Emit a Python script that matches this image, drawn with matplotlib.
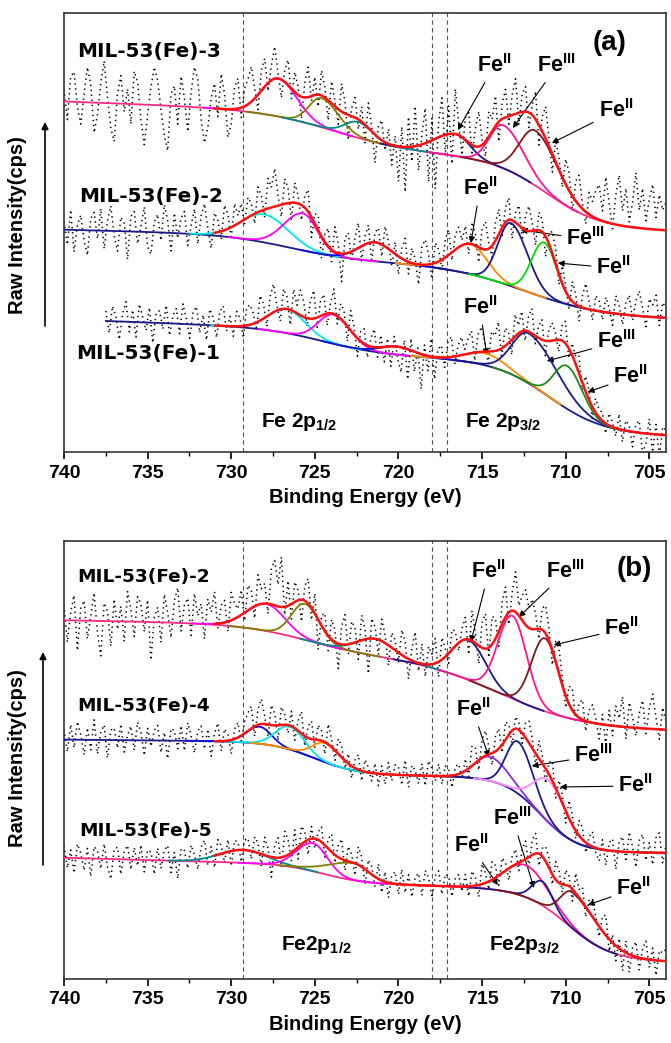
import numpy as np
import matplotlib.pyplot as plt
from matplotlib.ticker import MultipleLocator

plt.rcParams['font.family'] = ['Liberation Sans', 'DejaVu Sans']
plt.rcParams['font.weight'] = 'bold'
plt.rcParams['mathtext.fontset'] = 'custom'
plt.rcParams['mathtext.rm'] = 'Liberation Sans:bold'
plt.rcParams['mathtext.bf'] = 'Liberation Sans:bold'
plt.rcParams['mathtext.it'] = 'Liberation Sans:bold'
plt.rcParams['mathtext.default'] = 'rm'

# ---- data (intensity in arbitrary, offset units) ----
# background: base at 704 eV, linear slope, steps (centre, height, width)
a3_bg = (221, 0.6, [(711.2, 68, 1.6), (723.8, 40, 2.3)])
a3_c = [727.2, 724.6, 722.4, 716.6, 713.75, 711.8]
a3_h = [38, 29, 16, 22, 43, 55]
a3_whi = [1.0, 0.75, 0.8, 1.3, 0.8, 0.95]
a3_wlo = [1.1, 1.0, 0.8, 0.85, 1.2, 1.3]
a3_noise = [12, -18, 25, 30, -5, -22, 8, 35, 18, -30, -12, 20, 42, 5, -25, -38, 10, 28, -8, 15,
            -20, 33, 22, -15, -40, -10, 18, 38, 25, -5, -30, -45, 12, 20, -18, 30, 8, -25, 15, 40,
            28, -12, -35, -20, 10, 25, -8, 35, 15, -28, -15, 22, 30, -10, 18,
            25, 35, 10, -15, 20, 28, -8, 15, 32, 5, -18, 12, 25, -10, 20, 8, -22, 15, 30, -5,
            18, -12, 25, 10, -20, 22, 5, -15, 28, 12, -25, 8, 20, -10, 15, -18, 25, 5, -28, 12,
            20, -8, 15, -20, 10,
            -35, 20, -45, 30, -15, 40, -25, 10, 35, -40, 22, -50, 15, 38, -20, 28, -30, 45, 12, -18,
            22, 30, -10, 18, 35, 5, -15, 25, 12, 30, -20, 15, 28, -8, 20, 35, -12, 18, 25, -15,
            10, 28, -20, 15, 32, 8, -18, 22, 12, -10, 25, 18, -15, 20, 30, 5, -12, 22, 15, 28,
            35, 10, 45, 20, -5, 30, 50, 15, 38, 5, 25, 55, 18, 40, 8, 30, 45, 12, 35, 20, 28]

a2_bg = (133, 0.4, [(726.5, 25, 2.0), (712.5, 50, 2.3)])
a2_c = [728.0, 725.7, 721.4, 715.7, 713.3, 711.3]
a2_h = [28, 37, 19, 30, 63, 55]
a2_whi = [1.4, 1.15, 1.0, 1.1, 0.75, 0.75]
a2_wlo = [1.4, 0.85, 1.0, 1.0, 1.0, 0.75]
a2_noise = [8, -15, 20, -22, 5, 15, -10, -25, 12, 18, -8, 22, -18, 10, 25, -5, -20, 14, 8, -28,
            15, 20, -12, 5, 25, -15, -22, 10, 18, -8, 28, 12, -18, 20, -5, 15, 22, -12, 8, 25,
            -10, 18, 30, 5, -15, 20, 12, -8, 25, 15, -12, 22, 8, 18, -5,
            20, 12, -10, 25, 15, -8, 30, 20, 38, 10, -12, 25, 15, -18, 20, 8, -15, 12, 22, -20,
            10, 15, -22, 8, 18, -12, 25, 10, -28, 15, 20, -10, 12, 25, -15, 8, 18, -20, 10, 15,
            -12, 20, 8, -15, 12,
            -18, 10, 22, -12, 15, 5, -20, 18, 25, 10, -15, 20, 12, -10, 18, 25, -8, 15, 20, 5,
            18, -10, 22, 12, -15, 20, 28, 5, -12, 18, 25, -8, 15, 22, -18, 10, 20, -12, 15, 25,
            8, -15, 18, 12, -20, 10, 22, 15, -10, 18, 5, -12, 20, 10, -15, 12, 25, 8, -10, 15,
            10, -8, 15, 5, -12, 18, 8, -10, 12, 20, -5, 15, 25, 8, -10, 18, 12, 22, -8, 15, 10]

a1_bg = (16, 0.6, [(724.5, 25, 1.8), (711.0, 70, 1.6)])
a1_c = [726.7, 723.9, 720.1, 714.8, 712.2, 709.9]
a1_h = [24, 29, 8, 12, 50, 43]
a1_whi = [1.1, 0.9, 1.0, 1.2, 1.0, 0.8]
a1_wlo = [1.1, 1.0, 1.0, 1.2, 1.7, 0.9]
a1_noise = [10, -12, 15, 5, -18, 8, 20, -10, 12, -15, 18, 5, -8, 15, -20, 10, 12, -6, 18, -12,
            8, 15, -10, 20, 5, -14, 12, 18, -8, 10, -15, 16, 8, -12, 14, 20, -5, 10, -10, 15,
            8, -12, 18,
            20, 10, -8, 25, 15, -10, 18, 28, 5, -12, 20, 12, -15, 22, 8, 25, 15, -8, 18, 28,
            -10, 15, 20, -12, 10, 25, -8, 15, 12, -15, 20, 8, -18, 10, 15, -12, 8, 18, -10, 12,
            -15, 8, -20, 10, -12,
            -25, 8, -30, 12, -20, 5, -35, 10, -15, 18, -22, 8, 12, -10, 15, 20, -8, 10, 18, 5,
            15, 22, -8, 18, 25, 10, -12, 20, 15, 28, -10, 18, 12, -15, 22, 8, 20, -10, 15, 25,
            -8, 12, 20, -15, 10, 18, 8, -12, 15, 22, -10, 12, 8, 18, -8, 15, 10, -12, 14, 8,
            8, -10, 12, 5, -8, 15, -12, 10, 6, -15, 8, 12, -20, -10, 15, -18, 10, -22, 8, 5]

b2_bg = (248, 0.3, [(725.5, 30, 2.0), (714.0, 70, 2.5)])
b2_c = [727.9, 725.6, 721.4, 715.8, 713.2, 711.25]
b2_h = [27, 36, 17, 40, 83, 73]
b2_whi = [1.2, 0.8, 1.1, 1.0, 0.85, 0.8]
b2_wlo = [1.1, 0.85, 1.1, 1.0, 0.85, 0.8]
b2_noise = [15, -22, 8, 25, -30, 12, 20, -18, 5, 28, -12, -35, 18, 10, -25, 22, -8, 15, -20, 30,
            12, -15, 25, 18, -10, 22, -38, 5, 15, -20, 28, 10, -15, 22, 35, -8, 18, 25, -12, 30,
            8, 20, -15, 25, 12, 32, -5, 18, 22, -10, 28, 15, 8, 25, -8,
            25, 18, -12, 30, 15, 20, -10, 35, 45, 22, 50, -8, 25, -15, 20, 10, -22, 15, 25, -12,
            20, -30, 10, 18, -15, 20, 12, -25, 18, 30, -10, 22, 15, -18, 25, 10, -35, 20, 12, -15,
            22, 8, -20, 15, 10,
            -10, 25, 15, -20, 12, 30, -8, 20, -12, 18, 10, 25, -15, 22, 8, -10, 20, 15, -8, 12,
            22, -15, 30, 10, -18, 25, 35, -10, 28, 20, -15, 22, 30, -12, 18, 40, 10, 25, 35, 20,
            30, 15, -10, 22, 28, 12, -15, 20, 25, 8, -12, 18, 22, -8, 15, 20, -10, 12, 18, 5,
            -15, 10, -20, 15, -10, 20, 8, 30, -12, 25, 10, -8, 15, 28, -5, 20, 35, 12, -10, 22, 8]

b4_bg = (126, 0.15, [(725.0, 33, 1.3), (711.5, 75, 1.1)])
b4_c = [728.3, 726.5, 724.4, 714.55, 712.85, 711.0]
b4_h = [17, 23, 19, 24, 52, 42]
b4_whi = [0.8, 0.85, 0.75, 0.9, 0.7, 0.9]
b4_wlo = [0.7, 0.85, 0.9, 1.1, 0.9, 1.0]
b4_noise = [10, -12, 15, -8, 18, 5, -15, 12, -10, 20, -14, 8, 15, -18, 10, 12, -8, 16, -12, 5,
            14, -10, 18, 8, -15, 12, -6, 10, 15, -12, 8, -18, 12, 10, -8, 15, -10, 18, 5, -12,
            10, 15, -8, 12, -15, 8, 18, -10, 12, 6, -14, 10, 15, -8, 12,
            18, 22, -10, 15, 25, 8, -12, 20, 12, -15, 18, 10, -8, 15, -12, 10, 22, -10, 12, 18,
            -8, 15, 10, -12, 20, 8, -10, 15, 12, -8, 10, -12, 8, 15, -10, 12, 5, -8, 10, -12,
            8, -10, 12, -6, 10,
            8, -10, 15, -12, 10, 5, -8, 12, -10, 15, 8, -5, 12, -8, 10, 6, -12, 8, 10, -6,
            12, -8, 20, 15, -10, 18, 25, 8, -12, 15, 20, -8, 18, 10, -15, 12, 8, -10, 15, 22,
            10, -12, 18, 8, -15, 12, 20, -10, 15, 8, -12, 18, 10, -8, 15, 12, -10, 8, 15, -5,
            -12, 10, -15, 8, 12, -18, 10, 15, -10, 20, 5, -15, 12, 18, -8, 10, -12, 15, 20, -10, 8]

b5_bg = (17, 0.45, [(724.5, 18, 1.2), (709.9, 70, 1.3)])
b5_c = [729.3, 725.1, 722.7, 712.4, 711.4, 709.6]
b5_h = [13, 28, 17, 32, 24, 36]
b5_whi = [1.4, 1.0, 1.5, 1.3, 0.6, 0.7]
b5_wlo = [1.4, 0.85, 0.9, 1.3, 0.6, 1.5]
b5_noise = [12, -10, 8, -15, 14, 5, -12, 10, -18, 12, 8, -10, 15, -8, -20, 10, 12, -15, 8, 14,
            -10, 12, -6, 15, -12, 10, 8, -14, 12, -8, 10, 15, -12, 8, -18, 12, 10, -8, 15, 5,
            -10, 12, 18, -8, 10, -12, 15, 8, -10, 12, -15, 10, 8, -12, 10,
            12, -8, 15, 10, -12, 18, 8, -20, 12, 20, -10, 25, 15, -8, 20, -12, 18, 10, -15, 12,
            -10, 8, 15, -12, 10, 18, -8, 12, 20, -10, 15, 8, -12, 18, 10, -15, 12, 8, -10, 15,
            -12, 10, -15, 8, 12,
            -10, 15, -8, 10, -12, 8, 12, -10, 15, 8, -12, 10, 15, -8, 12, 10, -10, 8, 12, -5,
            12, -10, 15, 8, -12, 20, 10, -8, 18, 12, -10, 15, 8, -12, 10, 15, -8, 12, 18, -10,
            15, 20, -12, 8, 15, 10, -10, 18, 12, -8, 15, 10, -12, 20, 8, 15, -10, 12, 18, 5,
            -10, 15, 20, -12, 8, -15, 10, -20, 12, -18, 8, 15, -12, 10, 18, -8, 12, -15, 10, 8, 12]

# line colours
a3_col = ['#ff00ff', '#808000', '#008b8b', '#1a1a8c', '#ff1493', '#7b1c1c']
a2_col = ['#00e5ee', '#ff00ff', '#1010e0', '#ff8c00', '#1a1a8c', '#00dd00']
a1_col = ['#00e5ee', '#ff00ff', '#1010e0', '#ff8c00', '#1a1a8c', '#1c8c1c']
b2_col = ['#ff00ff', '#808000', '#008b8b', '#1a1a8c', '#ff1493', '#7b1c1c']
b4_col = ['#1010e0', '#00e5ee', '#ff8c00', '#8a2be2', '#1a1a8c', '#ff88ff']
b5_col = ['#008b8b', '#ff00ff', '#808000', '#ff1493', '#1a1a8c', '#7b1c1c']


def sig(z):
    return 1.0 / (1.0 + np.exp(-z))


def background(x, bg):
    base, slope, steps = bg
    y = base + slope * (x - 704)
    for c, h, w in steps:
        y = y + h * sig((x - c) / w)
    return y


def peak(x, c, h, whi, wlo):
    s = np.where(x > c, whi, wlo)
    return h * np.exp(-(x - c) ** 2 / (2 * s ** 2))


def draw_spectrum(ax, x0, bg, cs, hs, whi, wlo, cols, noise, bgcol):
    x = np.linspace(x0, 704, 600)
    base = background(x, bg)
    env = base.copy()
    ax.plot(x, base, color=bgcol, lw=1.3, zorder=3)
    for c, h, a, b, col in zip(cs, hs, whi, wlo, cols):
        p = peak(x, c, h, a, b)
        env += p
        m = np.abs(x - c) < 4.5
        ax.plot(x[m], (base + p)[m], color=col, lw=1.3, zorder=4)
    fit = x <= 731
    ax.plot(x[fit], env[fit], color='#ff1010', lw=1.8, zorder=5)
    # raw counts: fit envelope plus the scatter
    xr = np.linspace(x0, 704, len(noise))
    yr = np.interp(xr, x[::-1], env[::-1]) + np.array(noise)
    ax.plot(xr, yr, color='black', ls=(0, (0.9, 2.4)), lw=1.1, zorder=2)


fig = plt.figure(figsize=(6.71, 10.43), dpi=100)
axa = fig.add_axes([0.0954, 0.5666, 0.8972, 0.4209])
axb = fig.add_axes([0.0954, 0.0614, 0.8972, 0.4199])

draw_spectrum(axa, 740, a3_bg, a3_c, a3_h, a3_whi, a3_wlo, a3_col, a3_noise, '#ff2a8a')
draw_spectrum(axa, 740, a2_bg, a2_c, a2_h, a2_whi, a2_wlo, a2_col, a2_noise, '#1a1a8c')
draw_spectrum(axa, 737.5, a1_bg, a1_c, a1_h, a1_whi, a1_wlo, a1_col, a1_noise, '#1a1a8c')
draw_spectrum(axb, 740, b2_bg, b2_c, b2_h, b2_whi, b2_wlo, b2_col, b2_noise, '#ff2a8a')
draw_spectrum(axb, 740, b4_bg, b4_c, b4_h, b4_whi, b4_wlo, b4_col, b4_noise, '#1a1a8c')
draw_spectrum(axb, 740, b5_bg, b5_c, b5_h, b5_whi, b5_wlo, b5_col, b5_noise, '#ff2a8a')

axa.set_ylim(0, 439)
axb.set_ylim(0, 438)
for ax in (axa, axb):
    ax.set_xlim(740, 704)
    ax.set_xticks([740, 735, 730, 725, 720, 715, 710, 705])
    ax.xaxis.set_minor_locator(MultipleLocator(2.5))
    ax.set_yticks([])
    ax.tick_params(axis='x', which='major', direction='out', length=5, width=1.2, labelsize=14, pad=4)
    ax.tick_params(axis='x', which='minor', direction='out', length=3, width=1.0)
    for sp in ax.spines.values():
        sp.set_linewidth(1.2)
        sp.set_color('#333333')
    for v in [729.3, 718.0, 717.1]:
        ax.axvline(v, color='#555555', ls=(0, (4, 3)), lw=0.8, zorder=1)

axa.set_xlabel('Binding Energy (eV)', fontsize=14.5, fontweight='bold', va='center')
axa.xaxis.set_label_coords(0.5, -0.1025)
axb.set_xlabel('Binding Energy (eV)', fontsize=14.5, fontweight='bold', va='center')
axb.xaxis.set_label_coords(0.5, -0.105)

# sample names
sk = dict(fontsize=14.4, fontweight='bold', family='DejaVu Sans', ha='left', va='center')
axa.text(739.2, 401, 'MIL-53(Fe)-3', **sk)
axa.text(739.1, 256, 'MIL-53(Fe)-2', **sk)
axa.text(739.3, 99, 'MIL-53(Fe)-1', **sk)
sk['fontsize'] = 13.3
axb.text(739.2, 402, 'MIL-53(Fe)-2', **sk)
axb.text(739.2, 273, 'MIL-53(Fe)-4', **sk)
axb.text(739.1, 148, 'MIL-53(Fe)-5', **sk)

axa.text(707.36, 409, '(a)', fontsize=20, fontweight='bold', ha='center', va='center')
axb.text(705.87, 410, '(b)', fontsize=20, fontweight='bold', ha='center', va='center')

axa.text(728.2, 30, 'Fe 2p$_{1/2}$', fontsize=15, ha='left', va='center')
axa.text(716.0, 30, 'Fe 2p$_{3/2}$', fontsize=15, ha='left', va='center')
axb.text(727.0, 34, 'Fe2p$_{1/2}$', fontsize=15, ha='left', va='center')
axb.text(714.6, 34, 'Fe2p$_{3/2}$', fontsize=15, ha='left', va='center')

ak = dict(fontsize=15.5, ha='center', va='center',
          arrowprops=dict(arrowstyle='-|>', color='black', lw=0.8, mutation_scale=9, shrinkA=2, shrinkB=0))
fe2 = 'Fe$^{II}$'
fe3 = 'Fe$^{III}$'
axa.annotate(fe2, xy=(716.45, 322), xytext=(714.27, 386), **ak)
axa.annotate(fe3, xy=(713.16, 324), xytext=(710.53, 386), **ak)
axa.annotate(fe2, xy=(710.83, 309), xytext=(707.0, 341), **ak)
axa.annotate(fe2, xy=(715.67, 209), xytext=(715.13, 263), **ak)
axa.annotate(fe3, xy=(712.68, 222), xytext=(708.8, 213), **ak)
axa.annotate(fe2, xy=(710.47, 189), xytext=(707.13, 184), **ak)
axa.annotate(fe2, xy=(714.72, 97), xytext=(715.13, 144), **ak)
axa.annotate(fe3, xy=(711.13, 91), xytext=(706.95, 110), **ak)
axa.annotate(fe2, xy=(708.68, 60), xytext=(706.11, 75), **ak)

axb.annotate(fe2, xy=(715.67, 337), xytext=(714.6, 407), **ak)
axb.annotate(fe3, xy=(712.8, 362), xytext=(710.0, 407), **ak)
axb.annotate(fe2, xy=(710.71, 334), xytext=(706.65, 350), **ak)
axb.annotate(fe2, xy=(714.6, 222), xytext=(715.55, 269), **ak)
axb.annotate(fe3, xy=(712.03, 213), xytext=(708.32, 223), **ak)
axb.annotate(fe2, xy=(710.35, 192), xytext=(705.81, 193), **ak)
axb.annotate(fe3, xy=(711.9, 91), xytext=(713.16, 160), **ak)
axb.annotate(fe2, xy=(714.06, 94), xytext=(715.67, 133), **ak)
axb.annotate(fe2, xy=(708.68, 74), xytext=(705.93, 90), **ak)

# y labels with arrows
for yc, y0, y1, xa in [(225, 326, 122, 45), (758, 865, 652, 43)]:
    fig.text(18 / 671, 1 - yc / 1043, 'Raw Intensity(cps)', rotation=90, fontsize=14.5,
             fontweight='bold', ha='center', va='center')
    axa.annotate('', xy=(xa, 1043 - y1), xytext=(xa, 1043 - y0), xycoords='figure pixels',
                 textcoords='figure pixels',
                 arrowprops=dict(arrowstyle='-|>', color='black', lw=1.2, mutation_scale=10, shrinkA=0, shrinkB=0))

fig.savefig('out.png', dpi=100)
